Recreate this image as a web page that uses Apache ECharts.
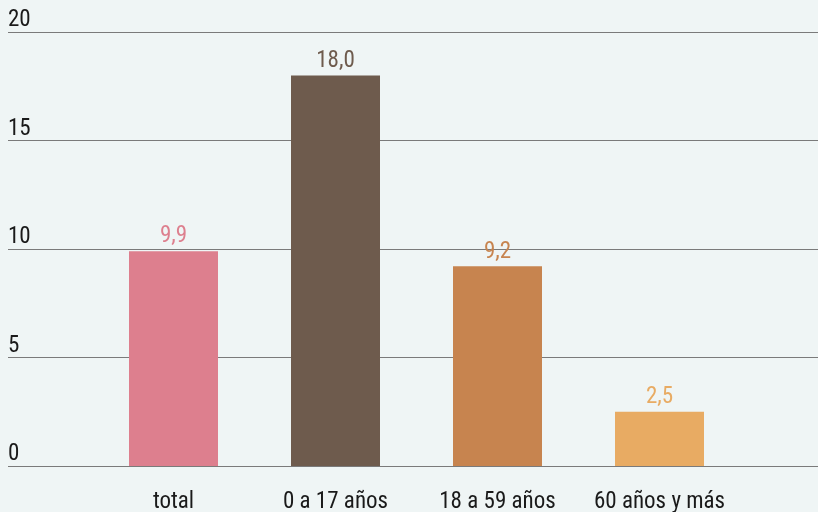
<!DOCTYPE html>
<html>
<head>
<meta charset="utf-8">
<script src="https://cdn.jsdelivr.net/npm/echarts@6/dist/echarts.min.js"></script>
<style>
  html, body { margin: 0; padding: 0; background: #eff5f5; }
  #chart { width: 818px; height: 512px; }
</style>
</head>
<body>
<div id="chart"></div>
<script>
// Age groups and their values (percent)
const categories = ['total', '0 a 17 años', '18 a 59 años', '60 años y más'];
const values = [9.9, 18.0, 9.2, 2.5];
const barColors = ['#dd7f8e', '#6e5b4d', '#c7844f', '#e8ab63'];
const yTicks = [0, 5, 10, 15, 20];

const FONT = '"Roboto Condensed", Roboto, sans-serif';

const chart = echarts.init(document.getElementById('chart'), null, { renderer: 'canvas' });

chart.setOption({
  backgroundColor: '#eff5f5',
  animation: false,
  grid: [
    // full-width grid carrying the horizontal rules and value ticks
    { left: 8, right: 0, top: 32, bottom: 46, outerBoundsMode: 'none', containLabel: false },
    // grid holding the bars
    { left: 92.5, width: 648, top: 32, bottom: 46, outerBoundsMode: 'none', containLabel: false }
  ],
  xAxis: [
    { gridIndex: 0, type: 'value', show: false, min: 0, max: 1 },
    {
      gridIndex: 1,
      type: 'category',
      data: categories,
      axisLine: { show: false },
      axisTick: { show: false },
      axisLabel: {
        interval: 0,
        margin: 25,
        fontFamily: FONT,
        fontSize: 23,
        color: '#1a1a1a'
      }
    }
  ],
  yAxis: [
    {
      gridIndex: 0,
      type: 'value',
      min: yTicks[0],
      max: yTicks[yTicks.length - 1],
      interval: 5,
      axisLine: { show: false },
      axisTick: { show: false },
      splitLine: { lineStyle: { color: '#7a7a7a', width: 1 } },
      axisLabel: {
        inside: true,
        margin: 0,
        align: 'left',
        verticalAlign: 'bottom',
        padding: [0, 0, 0, 0],
        fontFamily: FONT,
        fontSize: 23,
        color: '#1a1a1a',
        formatter: v => String(v)
      }
    },
    {
      gridIndex: 1,
      type: 'value',
      min: 0,
      max: 20,
      show: false
    }
  ],
  series: [{
    type: 'bar',
    xAxisIndex: 1,
    yAxisIndex: 1,
    barWidth: 89,
    data: values.map((v, i) => ({
      value: v,
      itemStyle: { color: barColors[i] },
      label: { color: barColors[i] }
    })),
    label: {
      show: true,
      position: 'top',
      distance: 3,
      fontFamily: FONT,
      fontSize: 23,
      formatter: p => p.value.toFixed(1).replace('.', ',')
    }
  }]
});
</script>
</body>
</html>
